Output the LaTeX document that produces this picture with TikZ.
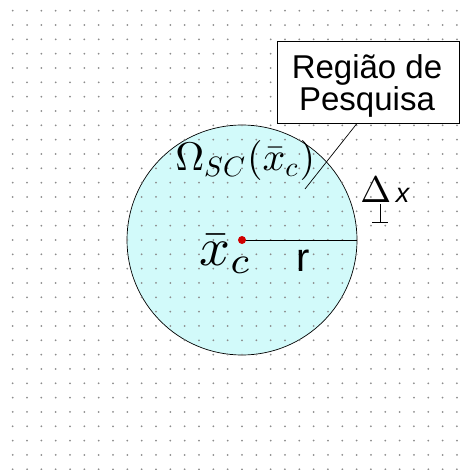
\RequirePackage{fix-cm}
\documentclass[tikz,border=0pt]{standalone}
\usepackage[no-math]{fontspec}
\setmainfont{Liberation Sans}
\usepackage{xcolor}
\definecolor{regionfill}{HTML}{D2FAFA}
\definecolor{griddot}{HTML}{8C8C8C}
\definecolor{centre}{HTML}{D00000}
\usetikzlibrary{calc}

% subscript drawn from the text-size font, shrunk
\newcommand{\smallsub}[1]{\hbox{\scalebox{0.7}{$#1$}}}

\begin{document}
\begin{tikzpicture}[x=1pt, y=-1pt, line width=0.7pt]

  \useasboundingbox (0,0) rectangle (464,470);

  % search region
  \coordinate (xc) at (242,240);
  \draw[fill=regionfill] (xc) circle (115pt);

  % grid of points
  \foreach \i in {0,...,31}
    \foreach \j in {0,...,32}
      \fill[griddot] ({12.7+14.33*\i},{10.7+14.33*\j}) circle (1pt);

  % radius
  \coordinate (rim) at (357,240);
  \draw (xc) -- (rim);
  \fill[centre] (xc) circle (4pt);

  \node[inner sep=0pt, anchor=base west, font=\fontsize{10}{10}\selectfont] (omega)
    at (175,171) {\scalebox{4.0}{$\Omega_{\smallsub{SC}}(\bar{x}_{\smallsub{c}})$}};
  \node[inner sep=0pt, anchor=base west, font=\fontsize{10}{10}\selectfont] (xbarc)
    at (199,265) {\scalebox{5.4}{$\bar{x}_c$}};
  \node[inner sep=0pt, anchor=base west, font=\fontsize{40}{40}\selectfont] (rlabel)
    at (296,271) {r};

  % label box
  \node[draw, fill=white, minimum width=182pt, minimum height=82pt] (regiao)
    at (368,82) {};
  \node[align=center, inner sep=0pt, font=\fontsize{33}{26}\selectfont] (regiaotext)
    at (367,86) {Região de\\Pesquisa};
  \coordinate (tip) at (305,189);
  \draw ($(regiao.south west)!0.44!(regiao.south east)$) -- (tip);

  % grid spacing
  \node[inner sep=0pt, anchor=base west, font=\fontsize{10}{10}\selectfont] (delta)
    at (360,202) {\scalebox{3.7}{$\Delta$}};
  \node[inner sep=0pt, anchor=base west, font=\fontsize{27}{27}\selectfont\itshape] (dx)
    at ([xshift=4pt]delta.base east) {x};
  \coordinate (perp) at (380,222);
  \draw (perp) -- ++(0,-18) (perp) ++(-8,0) -- ++(16,0);

\end{tikzpicture}
\end{document}
